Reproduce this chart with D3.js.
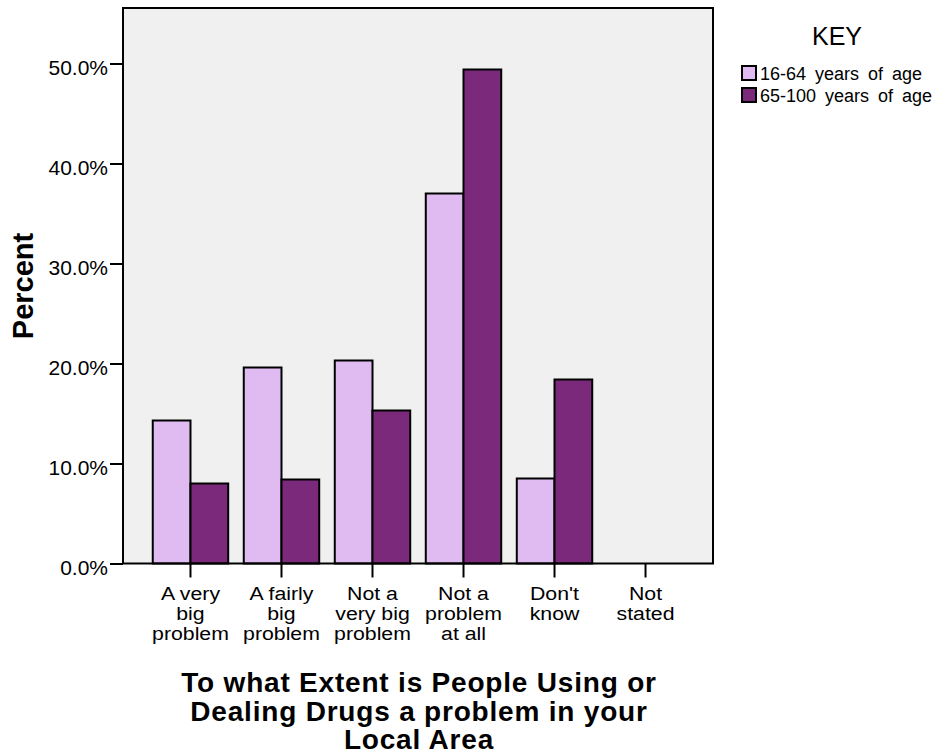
<!DOCTYPE html>
<html>
<head>
<meta charset="utf-8">
<script src="https://cdn.jsdelivr.net/npm/d3@7/dist/d3.min.js"></script>
<style>
  html, body { margin: 0; padding: 0; background: #ffffff; }
  svg { display: block; font-family: "Liberation Sans", Arial, sans-serif; }
</style>
</head>
<body>
<svg id="chart" width="938" height="756"></svg>
<script>
// ---- data ----
const categories = [
  ["A very", "big", "problem"],
  ["A fairly", "big", "problem"],
  ["Not a", "very big", "problem"],
  ["Not a", "problem", "at all"],
  ["Don't", "know"],
  ["Not", "stated"]
];
const seriesNames = ["16-64 years of age", "65-100 years of age"];
const values1664 = [14.3, 19.6, 20.3, 37.0, 8.5, 0];
const values65100 = [8.0, 8.4, 15.3, 49.4, 18.4, 0];
const yTicks = [0, 10, 20, 30, 40, 50];
const xTitleLines = ["To what Extent is People Using or", "Dealing Drugs a problem in your", "Local Area"];

const colors = ["#dfbbf2", "#7b2a7b"];

const svg = d3.select("#chart");
const plot = { left: 123, right: 713, top: 8, bottom: 563.5 };

const catIds = categories.map((d, i) => i);
const x = d3.scaleBand().domain(catIds).range([plot.left, plot.right])
  .paddingInner(0.171).paddingOuter(0.327);
const xs = d3.scaleBand().domain([0, 1]).range([0, x.bandwidth()]);
const y = d3.scaleLinear().domain([0, 55.5]).range([plot.bottom, plot.bottom - 555]);

// plot background
svg.append("rect")
  .attr("x", plot.left).attr("y", plot.top)
  .attr("width", plot.right - plot.left).attr("height", plot.bottom - plot.top)
  .attr("fill", "#f0f0f0");

// bars
const seriesData = [values1664, values65100];
seriesData.forEach((vals, s) => {
  svg.append("g").selectAll("rect").data(vals).join("rect")
    .attr("x", (d, i) => x(i) + xs(s))
    .attr("y", d => y(d))
    .attr("width", xs.bandwidth())
    .attr("height", d => y(0) - y(d))
    .attr("fill", colors[s])
    .attr("stroke", "#000")
    .attr("stroke-width", 2);
});

// frame
svg.append("rect")
  .attr("x", plot.left).attr("y", plot.top)
  .attr("width", plot.right - plot.left).attr("height", plot.bottom - plot.top)
  .attr("fill", "none").attr("stroke", "#000").attr("stroke-width", 2);

// y axis
const yAxis = d3.axisLeft(y).tickValues(yTicks).tickSize(13).tickPadding(2)
  .tickFormat(d => d.toFixed(1) + "%");
const gy = svg.append("g").attr("transform", `translate(${plot.left},0)`).call(yAxis);
gy.select(".domain").remove();
gy.selectAll(".tick line").attr("stroke", "#000").attr("stroke-width", 2);
gy.selectAll(".tick text").attr("font-size", 21).attr("fill", "#000")
  .attr("font-family", "Liberation Sans, Arial, sans-serif").attr("dy", "0.5em");

// x axis
const xAxis = d3.axisBottom(x).tickSize(14).tickFormat("");
const gx = svg.append("g").attr("transform", `translate(0,${plot.bottom})`).call(xAxis);
gx.select(".domain").remove();
gx.selectAll(".tick line").attr("stroke", "#000").attr("stroke-width", 2);
gx.selectAll(".tick text").remove();

// category labels (slightly widened glyphs, as in the reference)
const catG = svg.append("g");
categories.forEach((lines, i) => {
  const cx = x(i) + x.bandwidth() / 2;
  const t = catG.append("text")
    .attr("transform", `translate(${cx},0) scale(1.12,1)`)
    .attr("x", 0).attr("y", 600)
    .attr("text-anchor", "middle")
    .attr("font-size", 19).attr("fill", "#000");
  lines.forEach((ln, j) => {
    t.append("tspan").attr("x", 0).attr("y", 600 + j * 20).text(ln);
  });
});

// y title
svg.append("text")
  .attr("transform", "translate(33,286) rotate(-90)")
  .attr("text-anchor", "middle")
  .attr("font-size", 29).attr("font-weight", "bold").attr("fill", "#000")
  .text("Percent");

// x title
const xt = svg.append("text").attr("text-anchor", "middle")
  .attr("font-size", 28).attr("font-weight", "bold").attr("fill", "#000")
  .attr("letter-spacing", 0.8);
xTitleLines.forEach((ln, j) => {
  xt.append("tspan").attr("x", 419).attr("y", 692 + j * 28.5).text(ln);
});

// legend
svg.append("text").attr("x", 837).attr("y", 45).attr("text-anchor", "middle")
  .attr("font-size", 25).attr("fill", "#000").text("KEY");
seriesNames.forEach((nm, s) => {
  svg.append("rect").attr("x", 742).attr("y", 66 + s * 22).attr("width", 14).attr("height", 14)
    .attr("fill", colors[s]).attr("stroke", "#000").attr("stroke-width", 2);
  svg.append("text").attr("x", 760).attr("y", 80 + s * 22)
    .attr("font-size", 18).attr("fill", "#000").attr("word-spacing", 4).text(nm);
});
</script>
</body>
</html>
